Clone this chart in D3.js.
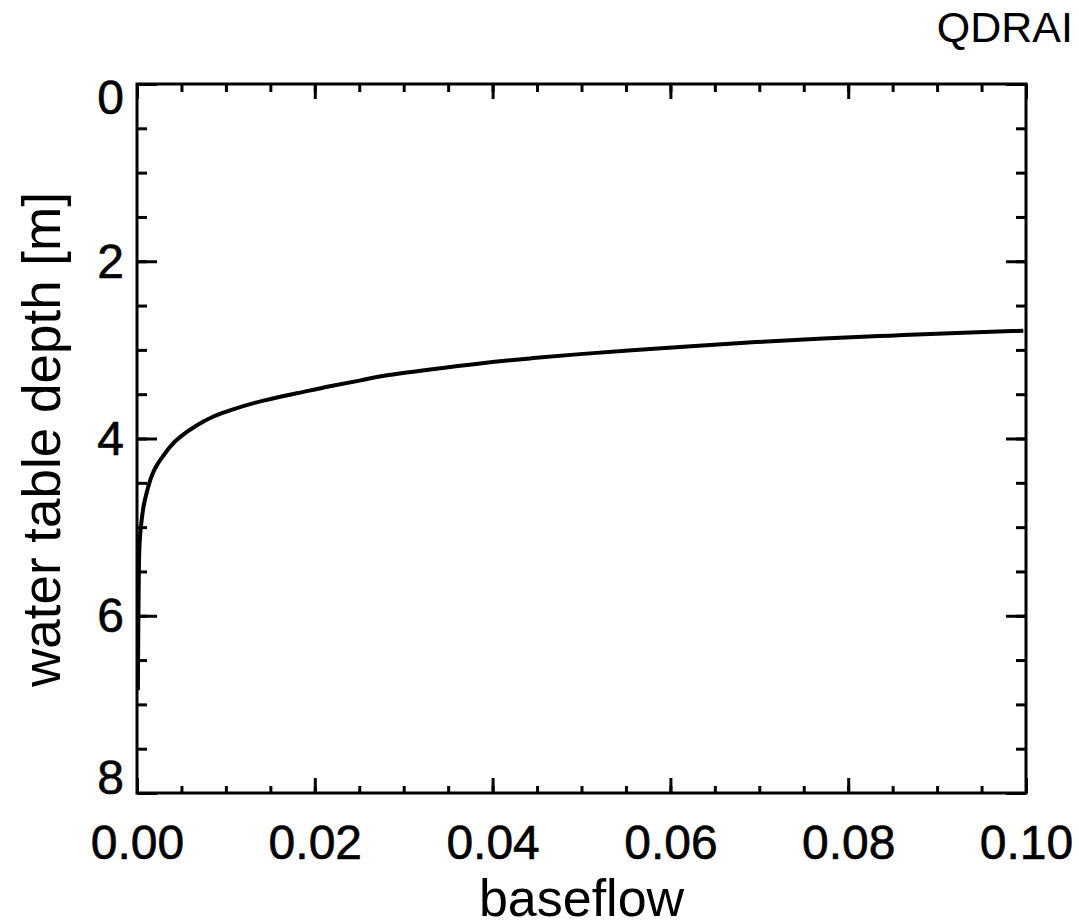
<!DOCTYPE html>
<html lang="en">
	<head>
		<meta charset="utf-8">
		<title>QDRAI baseflow vs water table depth</title>
		<script src="https://d3js.org/d3.v7.min.js"></script>
		<style type="text/css">
			body { margin: 0; background: #fff; }
			svg { display: block; }
		</style>
	</head>
	<body>
		<script type="text/javascript">
			//Data
			var baseflow = [0.0997, 0.0922, 0.0847, 0.0772, 0.0697, 0.0622, 0.0555, 0.0498, 0.0442,
							0.0386, 0.0330, 0.0273, 0.0255, 0.0217, 0.0180, 0.0142, 0.0105, 0.0086,
							0.0067, 0.0048, 0.0037, 0.0030, 0.0022, 0.00165, 0.0011, 0.0007,
							0.00053, 0.00034, 0.0002, 0.00015, 0.0001];
			var depth = [2.784, 2.808, 2.84, 2.87, 2.91, 2.96, 3.005, 3.047, 3.095,
						 3.15, 3.22, 3.295, 3.34, 3.408, 3.49, 3.566, 3.678, 3.746,
						 3.848, 3.98, 4.09, 4.19, 4.30, 4.41, 4.60, 4.77,
						 4.92, 5.07, 5.37, 6.05, 6.84];
			var xTicks = [0, 0.02, 0.04, 0.06, 0.08, 0.10];
			var yTicks = [0, 2, 4, 6, 8];
			var xMinor = d3.range(0, 0.1001, 0.005);
			var yMinor = d3.range(0, 8.01, 0.5);

			var width = 1079;
			var height = 923;
			var margin = { top: 84, right: 53, bottom: 130, left: 137 };
			var w = width - margin.left - margin.right;
			var h = height - margin.top - margin.bottom;
			var font = "'Liberation Sans', Arial, sans-serif";

			var x = d3.scaleLinear().domain([0, 0.1]).range([0, w]);
			var y = d3.scaleLinear().domain([0, 8]).range([0, h]);

			var svg = d3.select("body")
						.append("svg")
							.attr("width", width)
							.attr("height", height);

			var g = svg.append("g")
				.attr("transform", "translate(" + margin.left + "," + margin.top + ")");

			//tick marks on all four sides, pointing inward
			function ticks(axis, values, size, tx) {
				var a = g.append("g")
					.attr("transform", tx)
					.call(axis.tickValues(values).tickSize(size).tickFormat(""));
				a.select(".domain").remove();
				a.selectAll("line").attr("stroke", "#000").attr("stroke-width", 3);
				return a;
			}
			ticks(d3.axisTop(x), xMinor, 7, "translate(0," + h + ")");
			ticks(d3.axisTop(x), xTicks, 15, "translate(0," + h + ")");
			ticks(d3.axisBottom(x), xMinor, 8, "translate(0,0)");
			ticks(d3.axisBottom(x), xTicks, 15, "translate(0,0)");
			ticks(d3.axisRight(y), yMinor, 10, "translate(0,0)");
			ticks(d3.axisRight(y), yTicks, 20, "translate(0,0)");
			ticks(d3.axisLeft(y), yMinor, 10, "translate(" + w + ",0)");
			ticks(d3.axisLeft(y), yTicks, 20, "translate(" + w + ",0)");

			//tick labels
			var bottomAxis = g.append("g")
				.attr("transform", "translate(0," + h + ")")
				.call(d3.axisBottom(x).tickValues(xTicks).tickSize(0).tickFormat(d3.format(".2f")));
			bottomAxis.select(".domain").remove();
			bottomAxis.selectAll("text")
				.attr("y", 66)
				.attr("dy", 0)
				.attr("fill", "#000")
				.attr("stroke", "#000")
				.attr("stroke-width", 0.6)
				.attr("font-family", font)
				.attr("font-size", "48px");

			var leftAxis = g.append("g")
				.call(d3.axisLeft(y).tickValues(yTicks).tickSize(0).tickFormat(d3.format("d")));
			leftAxis.select(".domain").remove();
			leftAxis.selectAll("text")
				.attr("x", -13)
				.attr("dy", function(d) {
					if (d === 0) return 29;
					if (d === 8) return 0;
					return 16;
				})
				.attr("fill", "#000")
				.attr("stroke", "#000")
				.attr("stroke-width", 0.6)
				.attr("font-family", font)
				.attr("font-size", "48px");

			//curve
			g.append("clipPath")
				.attr("id", "clip")
				.append("rect")
				.attr("width", w)
				.attr("height", h);

			var line = d3.line()
				.x(function(d, i) { return x(baseflow[i]); })
				.y(function(d, i) { return y(depth[i]); })
				.curve(d3.curveBasis);

			g.append("path")
				.datum(depth)
				.attr("clip-path", "url(#clip)")
				.attr("d", line)
				.attr("fill", "none")
				.attr("stroke", "#000")
				.attr("stroke-width", 4);

			//frame
			g.append("rect")
				.attr("width", w)
				.attr("height", h)
				.attr("fill", "none")
				.attr("stroke", "#000")
				.attr("stroke-width", 3);

			//axis titles
			svg.append("text")
				.text("baseflow")
				.attr("x", margin.left + w / 2)
				.attr("y", 916)
				.attr("text-anchor", "middle")
				.attr("font-family", font)
				.attr("font-size", "52px");

			svg.append("text")
				.text("water table depth [m]")
				.attr("transform", "translate(60," + (margin.top + h / 2 + 1) + ") rotate(-90)")
				.attr("text-anchor", "middle")
				.attr("font-family", font)
				.attr("font-size", "53px");

			svg.append("text")
				.text("QDRAI")
				.attr("x", 1073)
				.attr("y", 42)
				.attr("text-anchor", "end")
				.attr("font-family", font)
				.attr("font-size", "43px");
		</script>
	</body>
</html>
